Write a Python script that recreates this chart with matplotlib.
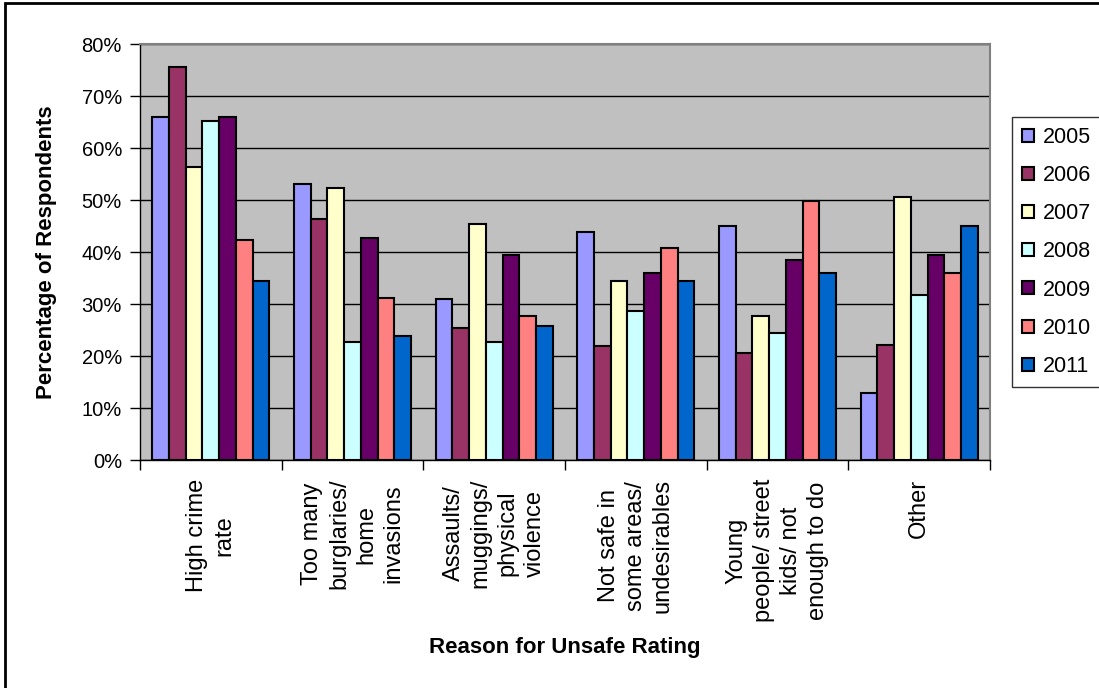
import numpy as np
import matplotlib.pyplot as plt
from matplotlib.patches import Rectangle

plt.rcParams['font.family'] = ['Liberation Sans', 'DejaVu Sans']

# Reasons given for rating the area unsafe
categories = [
    'High crime\nrate',
    'Too many\nburglaries/\nhome\ninvasions',
    'Assaults/\nmuggings/\nphysical\nviolence',
    'Not safe in\nsome areas/\nundesirables',
    'Young\npeople/ street\nkids/ not\nenough to do',
    'Other',
]
years = ['2005', '2006', '2007', '2008', '2009', '2010', '2011']

# percentage of respondents per survey year, one value per category
pct_2005 = [65.9, 53.0, 30.9, 43.8, 45.0, 12.8]
pct_2006 = [75.5, 46.4, 25.4, 22.0, 20.6, 22.1]
pct_2007 = [56.3, 52.3, 45.3, 34.5, 27.7, 50.5]
pct_2008 = [65.2, 22.7, 22.7, 28.6, 24.4, 31.7]
pct_2009 = [66.0, 42.6, 39.4, 36.0, 38.4, 39.4]
pct_2010 = [42.3, 31.2, 27.6, 40.8, 49.8, 36.0]
pct_2011 = [34.5, 23.8, 25.7, 34.5, 36.0, 45.0]

series = [pct_2005, pct_2006, pct_2007, pct_2008, pct_2009, pct_2010, pct_2011]
colors = ['#9999FF', '#993366', '#FFFFCC', '#CCFFFF', '#660066', '#FF8080', '#0066CC']

W, H = 1099, 688
fig = plt.figure(figsize=(W / 100, H / 100), dpi=100)
ax = fig.add_axes([140 / W, 1 - 460 / H, 850 / W, 416 / H])
ax.set_facecolor('#C0C0C0')

x = np.arange(len(categories))
bw = 0.118
for i, (vals, col, yr) in enumerate(zip(series, colors, years)):
    ax.bar(x + (i - 3) * bw, vals, width=bw, color=col, edgecolor='black',
           linewidth=1.5, label=yr, zorder=3)

ax.set_xlim(-0.5, len(categories) - 0.5)
ax.set_ylim(0, 80)
ax.set_yticks(np.arange(0, 81, 10))
ax.set_yticklabels([f'{v}%' for v in range(0, 81, 10)], fontsize=14.5)
ax.grid(axis='y', color='black', linewidth=1, zorder=1)

# ticks between the categories
ax.set_xticks(np.arange(-0.5, len(categories), 1))
ax.set_xticklabels([])
ax.tick_params(axis='x', direction='out', length=7, width=1, color='black')
ax.tick_params(axis='y', direction='out', length=7, width=1, color='black', pad=6)

for side in ['top', 'right']:
    ax.spines[side].set_color('#808080')
    ax.spines[side].set_linewidth(1.5)
for side in ['left', 'bottom']:
    ax.spines[side].set_color('black')
    ax.spines[side].set_linewidth(1)

# rotated category labels below the axis
for xi, label in zip(x, categories):
    ax.text(xi, -0.045, label, transform=ax.get_xaxis_transform(),
            rotation=90, ha='center', va='top', multialignment='center',
            fontsize=17, linespacing=1.3)

fig.text(47 / W, 1 - 252 / H, 'Percentage of Respondents', rotation=90,
         ha='center', va='center', fontsize=16, fontweight='bold')
fig.text(565 / W, 1 - 647 / H, 'Reason for Unsafe Rating',
         ha='center', va='center', fontsize=16, fontweight='bold')

leg = fig.legend(loc='upper left', bbox_to_anchor=(1012 / W, 1 - 117 / H),
                 fontsize=15.5, frameon=True, fancybox=False, edgecolor='black',
                 handlelength=0.55, handleheight=0.55, handletextpad=0.45,
                 labelspacing=0.8, borderpad=0.45, borderaxespad=0)
leg.get_frame().set_linewidth(1)

# outer chart frame
fig.patches.append(Rectangle((5 / W, -0.2), 1.5, 1.2 - 3 / H,
                             transform=fig.transFigure, fill=False,
                             edgecolor='black', linewidth=2, clip_on=False))

fig.savefig('out.png', dpi=100)
